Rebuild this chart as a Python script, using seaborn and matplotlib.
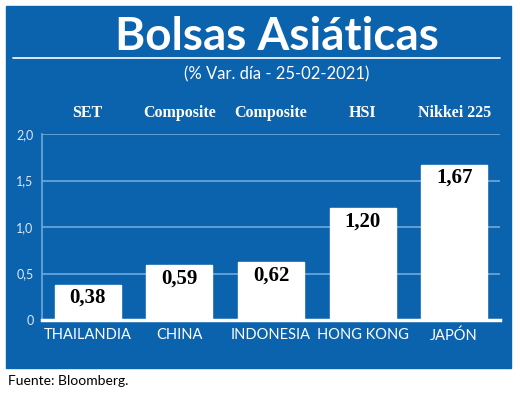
import matplotlib.pyplot as plt
import seaborn as sns
import pandas as pd
from matplotlib.patches import Rectangle
from matplotlib.lines import Line2D
import matplotlib.transforms as mtransforms

# data
countries = ["THAILANDIA", "CHINA", "INDONESIA", "HONG KONG", "JAPÓN"]
indices = ["SET", "Composite", "Composite", "HSI", "Nikkei 225"]
values = [0.38, 0.59, 0.62, 1.20, 1.67]
value_labels = ["0,38", "0,59", "0,62", "1,20", "1,67"]
yticks = [0, 0.5, 1.0, 1.5, 2.0]
ytick_labels = ["0", "0,5", "1,0", "1,5", "2,0"]

blue = "#0b62ad"
grid_blue = "#6fa8dc"

sns.set_style("white")

W, H = 520, 396
fig = plt.figure(figsize=(W / 100, H / 100), dpi=100)
fig.patch.set_facecolor("white")

# blue panel
fig.patches.append(Rectangle((6 / W, 1 - 368 / H), 505 / W, 362 / H,
                             transform=fig.transFigure, color=blue, zorder=-5))
# white rule under the title
fig.lines.append(Line2D([13 / W, 500 / W], [1 - 58 / H, 1 - 58 / H],
                        transform=fig.transFigure, color="white", lw=1.2))

fig.text(277 / W, 1 - 37 / H, "Bolsas Asiáticas", ha="center", va="center",
         color="white", fontsize=33, fontweight="bold", family="Lato")
fig.text(277 / W, 1 - 74 / H, "(% Var. día - 25-02-2021)", ha="center", va="center",
         color="white", fontsize=12, family="Lato")
fig.text(8 / W, 1 - 381 / H, "Fuente: Bloomberg.", ha="left", va="center",
         color="black", fontsize=10, family="Lato")

ax = fig.add_axes([42 / W, 1 - 320 / H, 458 / W, 186 / H])
ax.set_facecolor(blue)

df = pd.DataFrame({"pais": countries, "var": values})
sns.barplot(data=df, x="pais", y="var", color="white", width=0.72,
            saturation=1, ax=ax, zorder=3)

ax.set_ylim(0, 2.0)
ax.set_xlim(-0.5, 4.5)
ax.set_yticks(yticks)
ax.set_yticklabels(ytick_labels, color="#dce9f6", fontsize=9, family="Lato")
ax.tick_params(axis="y", length=0, pad=6)
ax.tick_params(axis="x", length=0, pad=6)
ax.set_xticks(range(len(countries)))
ax.set_xticklabels(countries, color="white", fontsize=10.5, family="Lato")
ax.set_xlabel("")
ax.set_ylabel("")

for y in yticks[1:]:
    ax.axhline(y, color=grid_blue, lw=1.2, zorder=1)

for s in ["top", "right"]:
    ax.spines[s].set_visible(False)
ax.spines["left"].set_color(grid_blue)
ax.spines["left"].set_linewidth(1.2)
ax.spines["bottom"].set_color("white")
ax.spines["bottom"].set_linewidth(2.5)
ax.spines["bottom"].set_zorder(4)

for i, (v, lab) in enumerate(zip(values, value_labels)):
    ax.text(i, v - 0.035, lab, ha="center", va="top", color="black",
            fontsize=15, fontweight="bold", family="Liberation Serif", zorder=5)

trans = mtransforms.blended_transform_factory(ax.transData, fig.transFigure)
for i, name in enumerate(indices):
    ax.text(i, 1 - 113 / H, name, ha="center", va="center", color="white",
            fontsize=11.5, fontweight="bold", family="Liberation Serif",
            transform=trans)

fig.savefig("out.png", dpi=100, facecolor="white")
